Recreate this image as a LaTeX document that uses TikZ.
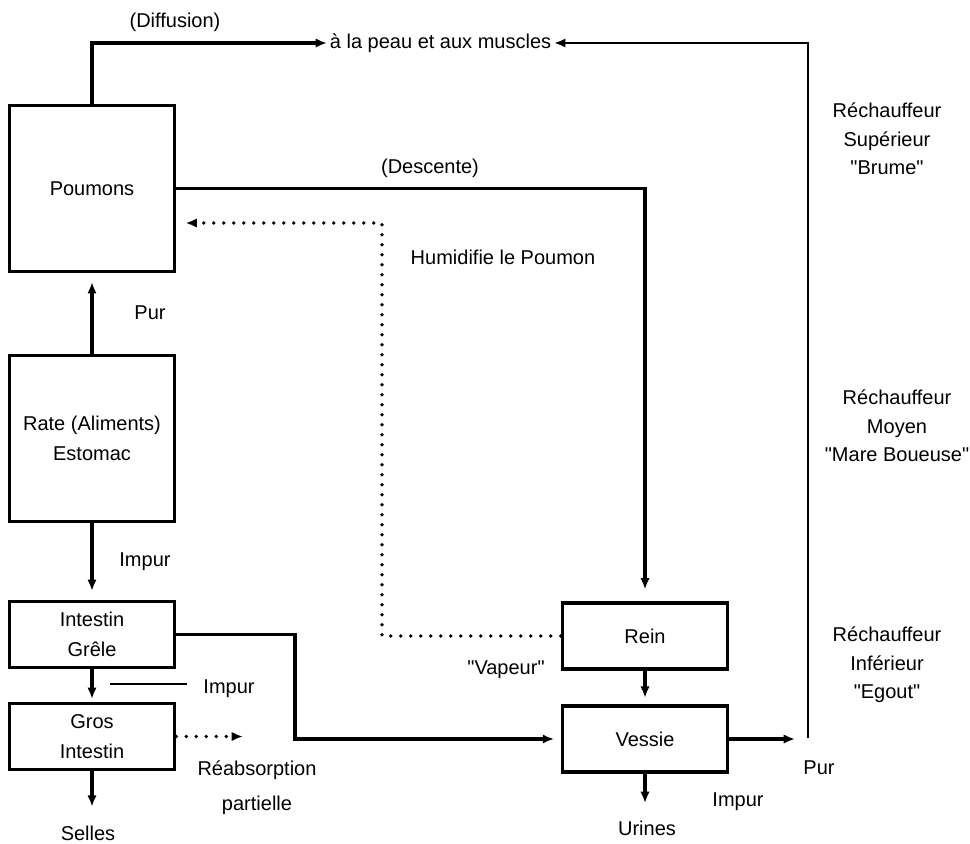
\documentclass[tikz,border=0pt]{standalone}
\usepackage{fontspec}
\setmainfont{Liberation Sans}
\usetikzlibrary{arrows.meta}

\begin{document}
\begin{tikzpicture}[x=0.75pt,y=-0.75pt,
  box/.style={draw,line width=2.3pt,inner sep=0pt,minimum width=124pt,align=center,font=\fontsize{15}{22}\selectfont},
  lbl/.style={inner sep=2pt,align=center,font=\fontsize{15}{21.5}\selectfont},
  fleche/.style={line width=2.3pt,-{Latex[length=8.5pt,width=7pt]}},
  pointille/.style={line width=2.8pt,line cap=round,dash pattern=on 0pt off 7.5pt,-{Latex[length=8.5pt,width=7pt]}}]
  \useasboundingbox (0,0) rectangle (970,843);
  % organes
  \node[box,minimum height=124pt] (poumons) at (92,188.5) {Poumons};
  \node[box,minimum height=125pt] (rate) at (92,438.5) {Rate (Aliments)\\Estomac};
  \node[box,minimum height=49pt] (grele) at (92,634.5) {Intestin\\Grêle};
  \node[box,minimum height=50pt] (gros) at (92,736.5) {Gros\\Intestin};
  \node[box,minimum height=49.5pt] (rein) at (645,636) {Rein};
  \node[box,minimum height=49.5pt] (vessie) at (645,739) {Vessie};
  % textes
  \node[lbl,anchor=west] (peau) at (327,43) {à la peau et aux muscles};
  \node[lbl] (diffusion) at (175,22) {(Diffusion)};
  \node[lbl] (descente) at (430,168) {(Descente)};
  \node[lbl] (humidifie) at (503,257) {Humidifie le Poumon};
  \node[lbl] (purhaut) at (150,313) {Pur};
  \node[lbl] (impurhaut) at (145,562) {Impur};
  \node[lbl] (impurmilieu) at (229,689) {Impur};
  \node[lbl] (reabsorption) at (257,788) {Réabsorption\\[5pt]partielle};
  \node[lbl] (selles) at (88,833) {Selles};
  \node[lbl] (vapeur) at (506,670) {\textquotedbl Vapeur\textquotedbl};
  \node[lbl] (urines) at (647,828) {Urines};
  \node[lbl] (impurbas) at (738,802) {Impur};
  \node[lbl] (purbas) at (819,768) {Pur};
  \node[lbl] (superieur) at (887,139) {Réchauffeur\\Supérieur\\\textquotedbl Brume\textquotedbl};
  \node[lbl] (moyen) at (897,426) {Réchauffeur\\Moyen\\\textquotedbl Mare Boueuse\textquotedbl};
  \node[lbl] (inferieur) at (887,665) {Réchauffeur\\Inférieur\\\textquotedbl Egout\textquotedbl};
  % points de passage
  \coordinate (coude) at (295,700);
  \coordinate (retour) at (382,223);
  \coordinate (purfin) at (795,739);
  \coordinate (chaud) at (808,738);
  \coordinate (reabsfin) at (243,736.5);
  \coordinate (traitimpur) at (110,684);
  % circuits
  \draw[fleche] (poumons.north) |- (peau.west);
  \draw[fleche,line width=1.8pt] (chaud) |- (peau.east);
  \draw[fleche,shorten >=9pt] (poumons.east) -| (rein.north);
  \draw[pointille,shorten >=7pt] (rein.west) -| (retour) -- (retour -| poumons.east);
  \draw[fleche,shorten >=7pt] (rate.north) -- (poumons.south);
  \draw[fleche,shorten >=7pt] (rate.south) -- (grele.north);
  \draw[fleche,shorten >=2pt] (grele.south) -- (gros.north);
  \draw[fleche,shorten >=12pt] (gros.south) -- (gros.south |- selles.north);
  \draw[pointille] (gros.east) -- (reabsfin);
  \draw[line width=1pt,shorten >=10pt] (traitimpur) -- (traitimpur -| impurmilieu.west);
  \draw[fleche,shorten >=5pt] (grele.east) -| (coude) |- (vessie.west);
  \draw[fleche,shorten >=5pt] (rein.south) -- (vessie.north);
  \draw[fleche,shorten >=11pt] (vessie.south) -- (vessie.south |- urines.north);
  \draw[fleche] (vessie.east) -- (purfin);
\end{tikzpicture}
\end{document}
